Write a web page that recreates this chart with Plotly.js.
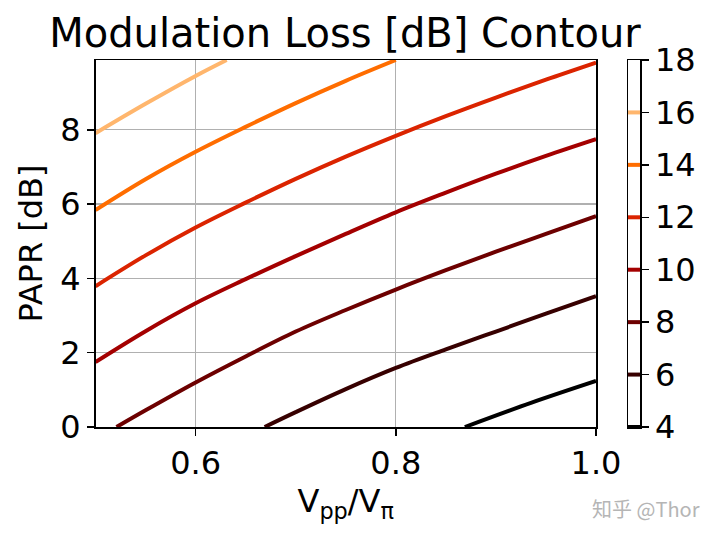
<!DOCTYPE html>
<html>
<head>
<meta charset="utf-8">
<script src="https://cdn.plot.ly/plotly-3.0.1.min.js"></script>
<style>html,body{margin:0;padding:0;background:#fff;}#plot{width:720px;height:537px;}</style>
</head>
<body>
<div id="plot"></div>
<script>
// Contour levels (dB) and colours (gist_heat-like)
const levels = [4, 6, 8, 10, 12, 14, 16, 18];
const levelColors = ["#000000", "#370000", "#6d0000", "#a40000", "#db2400", "#ff6d00", "#ffb66d", "#ffffff"];

// Contour lines: x = Vpp/Vpi, y = PAPR [dB]
const vpp4 = [0.869, 0.935, 1.0];
const papr4 = [0.0, 0.65, 1.24];

const vpp6 = [0.669, 0.7, 0.75, 0.8, 0.85, 0.9, 0.95, 1.0];
const papr6 = [0.0, 0.40, 1.02, 1.59, 2.09, 2.57, 3.05, 3.52];

const vpp8 = [0.521, 0.55, 0.6, 0.65, 0.7, 0.75, 0.8, 0.85, 0.9, 0.95, 1.0];
const papr8 = [0.0, 0.45, 1.2, 1.9, 2.57, 3.15, 3.7, 4.22, 4.72, 5.2, 5.68];

const vpp10 = [0.5, 0.55, 0.6, 0.65, 0.7, 0.75, 0.8, 0.85, 0.9, 0.95, 1.0];
const papr10 = [1.75, 2.58, 3.33, 3.98, 4.60, 5.20, 5.78, 6.31, 6.82, 7.30, 7.75];

const vpp12 = [0.5, 0.55, 0.6, 0.65, 0.7, 0.75, 0.8, 0.85, 0.9, 0.95, 1.0];
const papr12 = [3.79, 4.62, 5.37, 6.04, 6.68, 7.28, 7.84, 8.37, 8.87, 9.35, 9.81];

const vpp14 = [0.5, 0.55, 0.6, 0.65, 0.7, 0.75, 0.8];
const papr14 = [5.84, 6.67, 7.41, 8.08, 8.72, 9.32, 9.88];

const vpp16 = [0.5, 0.55, 0.6, 0.631];
const papr16 = [7.91, 8.70, 9.45, 9.88];

const lines = [
  [vpp4, papr4, 0], [vpp6, papr6, 1], [vpp8, papr8, 2], [vpp10, papr10, 3],
  [vpp12, papr12, 4], [vpp14, papr14, 5], [vpp16, papr16, 6]
];

const xTicks = [0.6, 0.8, 1.0];
const yTicks = [0, 2, 4, 6, 8];

const FONT = "DejaVu Sans, sans-serif";
const traces = [];
lines.forEach(([x, y, i]) => {
  traces.push({
    type: "scatter", mode: "lines", x: x, y: y,
    line: {color: levelColors[i], width: 4, shape: "spline", smoothing: 1},
    xaxis: "x", yaxis: "y", showlegend: false, hoverinfo: "skip"
  });
});
// colorbar level marks
levels.forEach((lv, i) => {
  traces.push({
    type: "scatter", mode: "lines", x: [0, 1], y: [lv, lv],
    line: {color: levelColors[i], width: 4},
    xaxis: "x2", yaxis: "y2", showlegend: false, hoverinfo: "skip"
  });
});

const W = 720, H = 537;
const px = (a) => a / W, py = (b) => 1 - b / H;

const layout = {
  width: W, height: H,
  margin: {l: 0, r: 0, t: 0, b: 0},
  paper_bgcolor: "#ffffff", plot_bgcolor: "#ffffff",
  font: {family: FONT, size: 33, color: "#000"},
  title: {
    text: "Modulation Loss [dB] Contour",
    font: {family: FONT, size: 40, color: "#000"},
    x: px(345), xref: "paper", xanchor: "center",
    y: py(33), yref: "container", yanchor: "middle"
  },
  xaxis: {
    domain: [px(95.5), px(596)],
    range: [0.5, 1.0],
    tickvals: xTicks, tickformat: ".1f",
    ticks: "outside", ticklen: 7, tickwidth: 1.5, tickcolor: "#000",
    showline: true, mirror: true, linecolor: "#000", linewidth: 1.5,
    showgrid: true, gridcolor: "#b0b0b0", gridwidth: 1.3,
    zeroline: false,
    tickfont: {family: FONT, size: 32},
    title: {text: "V<sub>pp</sub>/V<sub>π</sub>", font: {family: FONT, size: 32}, standoff: 6},
    anchor: "y"
  },
  yaxis: {
    domain: [py(427), py(60)],
    range: [0, 9.88],
    tickvals: yTicks,
    ticks: "outside", ticklen: 7, tickwidth: 1.5, tickcolor: "#000",
    showline: true, mirror: true, linecolor: "#000", linewidth: 1.5,
    showgrid: true, gridcolor: "#b0b0b0", gridwidth: 1.3,
    zeroline: false,
    tickfont: {family: FONT, size: 32},
    title: {text: "PAPR [dB]", font: {family: FONT, size: 32}, standoff: 8},
    anchor: "x"
  },
  xaxis2: {
    domain: [px(628), px(640)],
    range: [0, 1], showticklabels: false, ticks: "", showgrid: false, zeroline: false,
    showline: true, mirror: true, linecolor: "#000", linewidth: 1.5,
    anchor: "y2", fixedrange: true
  },
  yaxis2: {
    domain: [py(427), py(60)],
    range: [4, 18], side: "right",
    tickvals: levels,
    ticks: "outside", ticklen: 7, tickwidth: 1.5, tickcolor: "#000",
    showline: true, mirror: true, linecolor: "#000", linewidth: 1.5,
    showgrid: false, zeroline: false,
    tickfont: {family: FONT, size: 32},
    anchor: "x2"
  },
  annotations: [{
    text: "知乎 @Thor", xref: "paper", yref: "paper",
    x: px(702), y: py(508), xanchor: "right", yanchor: "middle",
    showarrow: false,
    font: {family: "Noto Sans CJK SC, sans-serif", size: 20, color: "#b5b5b5"}
  }]
};

Plotly.newPlot("plot", traces, layout, {staticPlot: true, displayModeBar: false});
</script>
</body>
</html>
